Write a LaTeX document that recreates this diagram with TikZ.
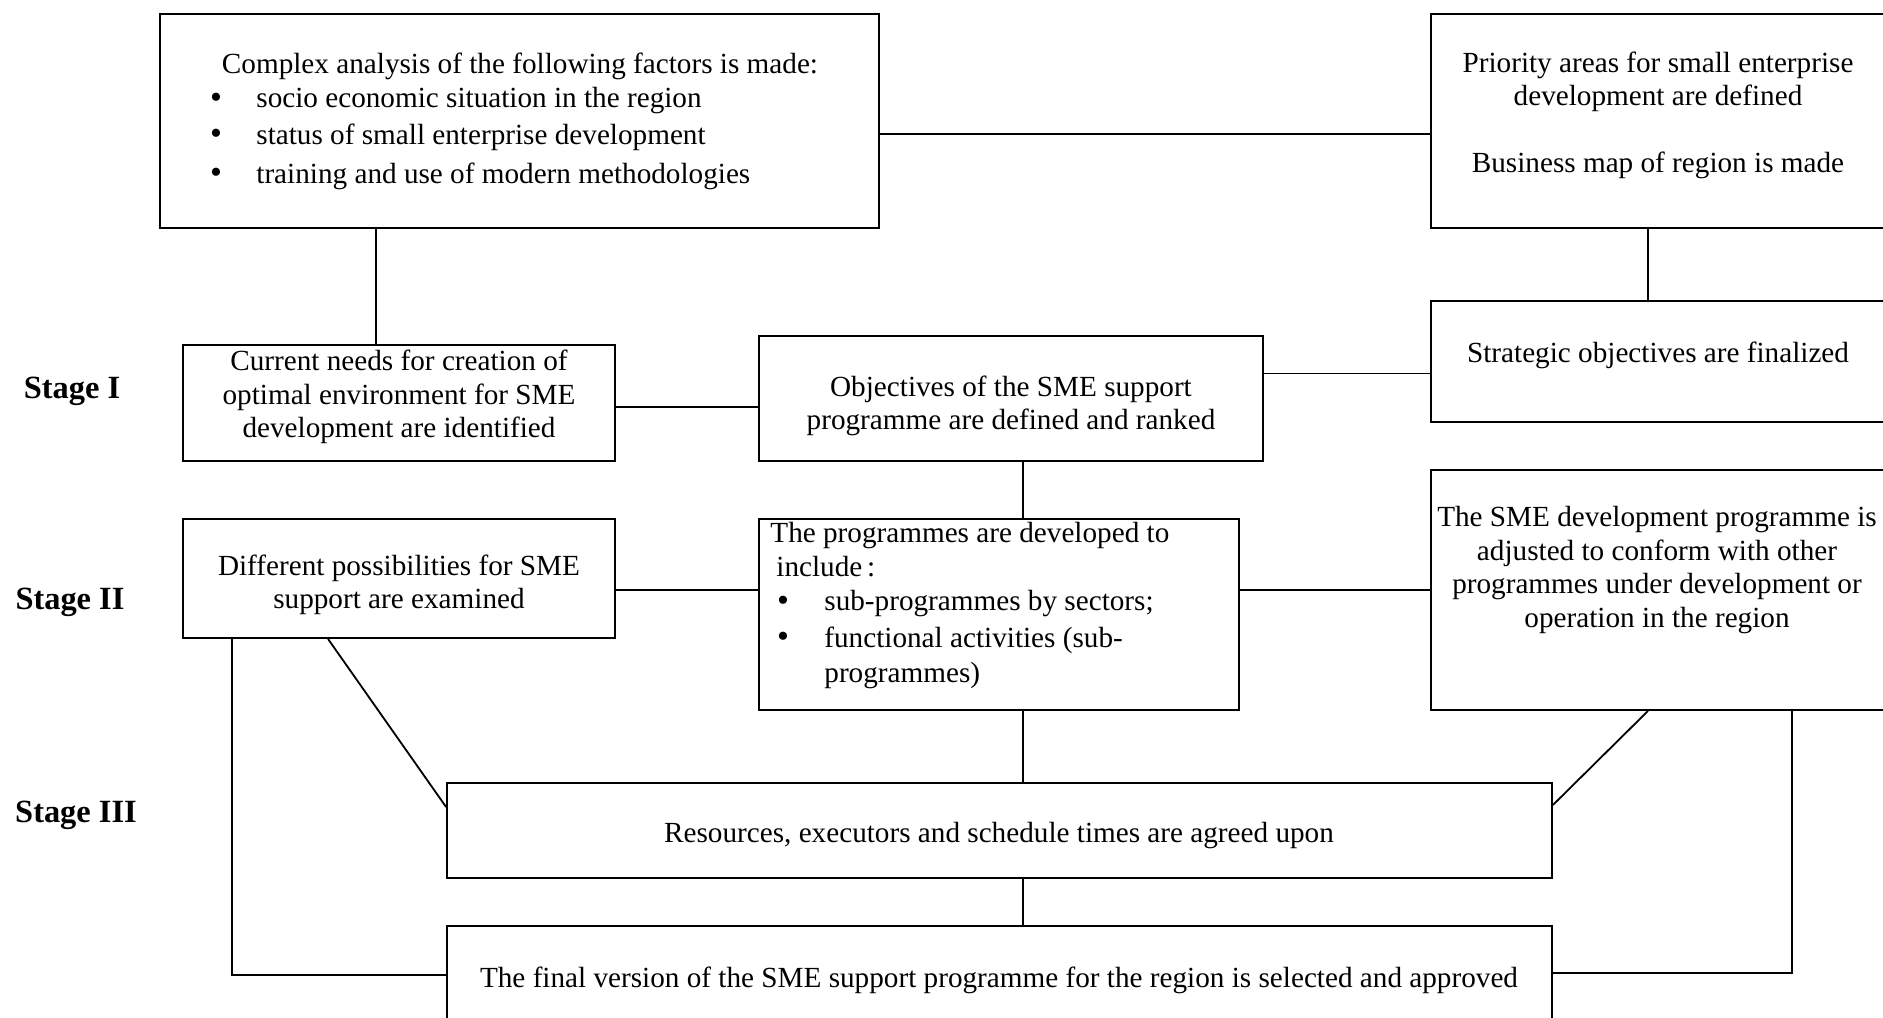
\documentclass[tikz,border=0pt]{standalone}
\usepackage{fontspec}
\setmainfont{Liberation Serif}
\usetikzlibrary{fit}
\begin{document}
\begin{tikzpicture}[x=0.5pt,y=-0.5pt,
  box/.style={rectangle, draw, line width=0.9pt, inner sep=0pt},
  conn/.style={line width=0.9pt},
  txt/.style={font=\fontsize{14.6}{16.8}\selectfont, align=center, inner sep=0pt},
  ltxt/.style={font=\fontsize{14.6}{16.8}\selectfont, anchor=west, inner sep=0pt},
  bul/.style={font=\fontsize{17}{17}\selectfont, inner sep=0pt},
  stagelbl/.style={font=\fontsize{16.2}{18}\selectfont\bfseries, inner sep=0pt}]
\useasboundingbox (0,0) rectangle (1883,1017);
\clip (0,0) rectangle (1883,1017);

% boxes
\node[box, fit={(160,14) (879,228)}] (A) {};
\node[box, fit={(1431,14) (1892,228)}] (B) {};
\node[box, fit={(183,345) (615,461)}] (C) {};
\node[box, fit={(1431,301) (1892,422)}] (D) {};
\node[box, fit={(759,336) (1263,461)}] (E) {};
\node[box, fit={(183,519) (615,638)}] (G) {};
\node[box, fit={(759,519) (1239,710)}] (F) {};
\node[box, fit={(1431,470) (1892,710)}] (H) {};
\node[box, fit={(447,783) (1552,878)}] (I) {};
\node[box, fit={(447,926) (1552,1040)}] (J) {};

% texts
\node[txt] (tA) at (520,66) {Complex analysis of the following factors is made:};
\node[bul] (bA1) at (216,101) {\textbullet};
\node[bul] (bA2) at (216,137) {\textbullet};
\node[bul] (bA3) at (216,176) {\textbullet};
\node[ltxt] (tA1) at (256,101) {socio economic situation in the region};
\node[ltxt] (tA2) at (256,137) {status of small enterprise development};
\node[ltxt] (tA3) at (256,176) {training and use of modern methodologies};

\node[txt] (tB1) at (1658,82) {Priority areas for small enterprise\\development are defined};
\node[txt] (tB2) at (1658,165) {Business map of region is made};

\node[txt] (tC) at (399,397) {Current needs for creation of\\optimal environment for SME\\development are identified};
\node[txt] (tD) at (1658,355) {Strategic objectives are finalized};
\node[txt] (tE) at (1011,406) {Objectives of the SME support\\programme are defined and ranked};
\node[txt] (tG) at (399,585) {Different possibilities for SME\\support are examined};

\node[ltxt] (tF1) at (770,536) {The programmes are developed to};
\node[ltxt] (tF2) at (776,567) {include\,:};
\node[bul] (bF1) at (783,604) {\textbullet};
\node[bul] (bF2) at (783,640) {\textbullet};
\node[ltxt] (tF3) at (824,604) {sub-programmes by sectors;};
\node[ltxt] (tF4) at (824,640) {functional activities (sub-};
\node[ltxt] (tF5) at (824,676) {programmes)};

\node[txt] (tH) at (1657,570) {The SME development programme is\\adjusted to conform with other\\programmes under development or\\operation in the region};
\node[txt] (tI) at (999,836) {Resources, executors and schedule times are agreed upon};
\node[txt] (tJ) at (999,980) {The final version of the SME support programme for the region is selected and approved};

\node[stagelbl] (s1) at (72,391) {Stage I};
\node[stagelbl] (s2) at (70,602) {Stage II};
\node[stagelbl] (s3) at (76,815) {Stage III};

% helper coordinates
\coordinate (yAB) at (0,134);
\coordinate (xAC) at (376,0);
\coordinate (xBD) at (1648,0);
\coordinate (yCE) at (0,407);
\coordinate (yED) at (0,373.5);
\coordinate (xMid) at (1023,0);
\coordinate (yGF) at (0,590);
\coordinate (xGd) at (328,0);
\coordinate (yGd) at (0,807);
\coordinate (yHd) at (0,805);
\coordinate (xGl) at (232,0);
\coordinate (yGl) at (0,975);
\coordinate (xHr) at (1792,0);
\coordinate (yHr) at (0,973);

% connectors
\draw[conn] (A.east |- yAB) -- (B.west |- yAB);
\draw[conn] (A.south -| xAC) -- (C.north -| xAC);
\draw[conn] (B.south -| xBD) -- (D.north -| xBD);
\draw[conn] (C.east |- yCE) -- (E.west |- yCE);
\draw[conn] (E.east |- yED) -- (D.west |- yED);
\draw[conn] (E.south -| xMid) -- (F.north -| xMid);
\draw[conn] (G.east |- yGF) -- (F.west |- yGF);
\draw[conn] (F.east |- yGF) -- (H.west |- yGF);
\draw[conn] (F.south -| xMid) -- (I.north -| xMid);
\draw[conn] (I.south -| xMid) -- (J.north -| xMid);
\draw[conn] (G.south -| xGd) -- (I.west |- yGd);
\draw[conn] (H.south -| xBD) -- (I.east |- yHd);
\draw[conn] (G.south -| xGl) |- (J.west |- yGl);
\draw[conn] (H.south -| xHr) |- (J.east |- yHr);
\end{tikzpicture}
\end{document}
